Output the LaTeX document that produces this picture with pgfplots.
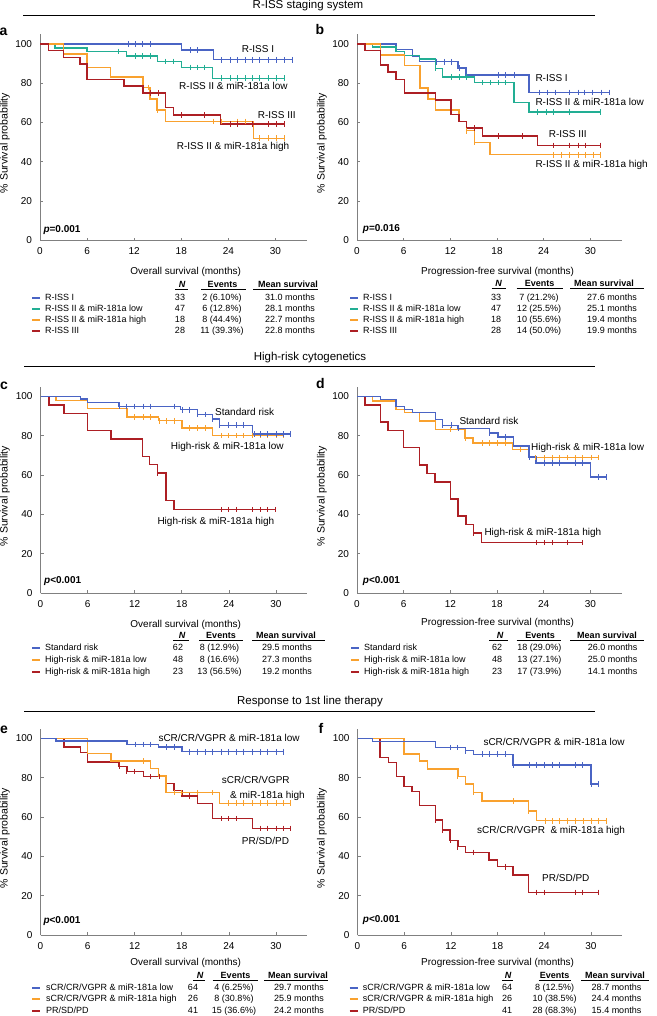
\documentclass[border=0pt]{standalone}
\usepackage{fontspec}
\setmainfont{Liberation Sans}
\usepackage{pgfplots}
\pgfplotsset{compat=1.18}
\definecolor{cblue}{HTML}{4A64C4}
\definecolor{cteal}{HTML}{22AE94}
\definecolor{corange}{HTML}{F9A12E}
\definecolor{cred}{HTML}{AD1F24}
\definecolor{axgray}{HTML}{808080}
\pgfplotsset{
 km/.style={scale only axis, height=206.5pt, xmin=0, xmax=34, ymin=0, ymax=105,
  axis x line=bottom, axis y line=left, axis line style={-, draw=axgray, line width=0.7pt},
  xtick={0,6,...,30}, ytick={0,20,...,100}, tick align=inside, major tick length=3pt,
  tick style={draw=axgray, line width=0.7pt},
  tick label style={font=\fontsize{10}{12}\selectfont},
  x tick label style={yshift=-3.5pt}, y tick label style={xshift=-4.5pt},
  /pgf/number format/assume math mode=true, clip=false, anchor=south west},
 kml/.style={const plot, line width=1.45pt, no marks, line join=miter},
 kmc/.style={only marks, mark=|, mark size=2.8pt, mark options={line width=0.75pt, solid}},
}
\newcommand\KM[3]{\addplot[kml,#1] coordinates {#2};\addplot[kmc,#1] coordinates {#3};}
\newcommand\tfont{\fontsize{9}{10.8}\selectfont}
\newcommand\trow[6]{%
 \draw[#2, line width=2pt] (\lx,#1) -- (\lxe,#1);
 \node[anchor=mid west, inner sep=0pt, font=\tfont] at (\tx,#1) {#3};
 \node[anchor=mid, inner sep=0pt, font=\tfont] at (\nx,#1) {#4};
 \node[anchor=mid, inner sep=0pt, font=\tfont] at (\ex,#1) {#5};
 \node[anchor=mid, inner sep=0pt, font=\tfont] at (\mx,#1) {#6};}
\newcommand\thead[1]{%
 \node[anchor=mid, font=\tfont\bfseries\itshape, inner sep=0pt] at (\hnx,#1) {N};
 \node[anchor=mid, font=\tfont\bfseries, inner sep=0pt] at (\hex,#1) {Events};
 \node[anchor=mid, font=\tfont\bfseries, inner sep=0pt] at (\hmx,#1) {Mean survival};}
\newcommand\clab{\fontsize{10}{12}\selectfont}
\begin{document}
\begin{tikzpicture}
\useasboundingbox (0pt,0pt) rectangle (656pt,-1016pt);
% ---------- a ----------
\begin{axis}[km, width=266.9pt, at={(40pt,-240.5pt)}]
\KM{cblue}{(0,100)(18.05,96.8)(22.1,91.9)(32.1,91.9)}{(11.2,100)(12.2,100)(13.1,100)(14.0,100)(19.1,96.8)(20.1,96.8)(23.1,91.9)(24.2,91.9)(25.1,91.9)(26.1,91.9)(27.0,91.9)(28.0,91.9)(29.1,91.9)(30.1,91.9)(31.1,91.9)(32.1,91.9)}
\KM{cteal}{(0,100)(1.9,97.9)(6.0,96.1)(11.0,93.9)(15.0,91.0)(18.0,88.0)(22.0,82.5)(31.1,82.5)}{(10.0,96.1)(12.1,93.9)(13.1,93.9)(14.0,93.9)(16.0,91.0)(17.0,91.0)(19.1,88.0)(20.1,88.0)(21.0,88.0)(23.1,82.5)(24.2,82.5)(25.1,82.5)(26.1,82.5)(27.0,82.5)(28.0,82.5)(29.1,82.5)(30.1,82.5)(31.1,82.5)}
\KM{corange}{(0,100)(3.0,94.9)(6.0,88.1)(9.0,83.2)(13.1,77.8)(14.0,71.9)(14.9,66.4)(16.0,60.5)(27.2,52.0)(31.1,52.0)}{(13.8,77.8)(14.9,66.4)(22.1,60.5)(23.1,60.5)(25.1,60.5)(26.1,60.5)(28.0,52.0)(29.1,52.0)(30.1,52.0)(31.1,52.0)}
\KM{cred}{(0,100)(1.1,96.6)(3.0,93.0)(5.1,89.7)(6.0,82.0)(10.7,78.6)(13.1,75.1)(16.0,67.6)(17.0,63.7)(23.0,59.2)(31.1,59.2)}{(14.0,75.1)(15.1,75.1)(18.0,63.7)(21.0,63.7)(24.2,59.2)(25.1,59.2)(27.0,59.2)(29.1,59.2)(30.1,59.2)(31.1,59.2)}
\end{axis}
% ---------- b ----------
\begin{axis}[km, width=264.5pt, at={(357pt,-240.5pt)}]
\KM{cblue}{(0,100)(5.0,97.0)(7.1,93.9)(8.0,90.9)(13.0,87.6)(14.0,84.2)(22.1,75.3)(32.4,75.3)}{(10.2,90.9)(11.2,90.9)(12.1,90.9)(13.1,87.6)(18.2,84.2)(19.1,84.2)(20.2,84.2)(23.4,75.3)(24.5,75.3)(25.5,75.3)(27.3,75.3)(28.4,75.3)(29.2,75.3)(30.3,75.3)(31.4,75.3)(32.4,75.3)}
\KM{cteal}{(0,100)(2.0,98.3)(5.0,96.1)(6.1,94.1)(8.0,92.2)(10.1,87.5)(11.0,83.1)(15.1,80.3)(20.2,70.2)(22.1,65.3)(31.3,65.3)}{(10.1,87.5)(12.1,83.1)(13.1,83.1)(14.1,83.1)(16.1,80.3)(17.2,80.3)(18.2,80.3)(19.1,80.3)(23.2,65.3)(24.3,65.3)(25.3,65.3)(27.3,65.3)(31.3,65.3)}
\KM{corange}{(0,100)(3.0,94.4)(6.1,89.0)(8.1,77.5)(9.1,72.0)(10.1,66.4)(13.1,60.5)(14.1,55.8)(15.1,49.8)(17.1,43.6)(31.3,43.6)}{(14.1,55.8)(15.1,49.8)(25.3,43.6)(26.3,43.6)(27.3,43.6)(28.4,43.6)(29.4,43.6)(30.4,43.6)(31.3,43.6)}
\KM{cred}{(0,100)(1.0,96.6)(3.0,89.3)(4.0,85.6)(5.0,82.0)(6.1,74.9)(10.1,71.5)(12.1,64.2)(13.1,60.5)(14.1,57.1)(16.1,53.2)(23.2,48.3)(31.3,48.3)}{(15.1,57.1)(18.2,53.2)(21.2,53.2)(25.3,48.3)(27.3,48.3)(28.4,48.3)(29.4,48.3)(31.3,48.3)}
\end{axis}
% ---------- c ----------
\begin{axis}[km, width=266.9pt, at={(40.5pt,-593pt)}]
\KM{cred}{(0,100)(1.1,95.6)(3.0,91.2)(6.0,82.7)(9.0,78.3)(13.0,69.5)(13.9,65.3)(14.9,61.0)(16.0,47.0)(17.0,42.4)(29.9,42.4)}{(14.9,61.0)(23.0,42.4)(23.9,42.4)(25.0,42.4)(27.0,42.4)(28.0,42.4)(28.9,42.4)(29.9,42.4)}
\KM{corange}{(0,100)(2.0,97.8)(6.0,93.9)(11.0,89.5)(15.0,87.6)(18.0,83.9)(21.9,80.0)(30.9,80.0)}{(12.0,89.5)(13.1,89.5)(14.0,89.5)(15.1,87.6)(16.0,87.6)(17.0,87.6)(19.0,83.9)(20.0,83.9)(21.0,83.9)(23.0,80.0)(23.9,80.0)(25.0,80.0)(25.9,80.0)(27.0,80.0)(28.0,80.0)(28.9,80.0)(30.0,80.0)(30.9,80.0)}
\KM{cblue}{(0,100)(5.1,98.6)(6.0,96.9)(10.0,94.9)(17.8,93.2)(20.0,90.7)(21.9,88.5)(22.8,85.3)(27.0,80.8)(31.8,80.8)}{(10.0,94.9)(11.0,94.9)(12.0,94.9)(13.1,94.9)(14.0,94.9)(17.0,94.9)(18.1,93.2)(19.0,93.2)(20.0,90.7)(21.0,90.7)(21.9,88.5)(22.8,85.3)(23.9,85.3)(25.0,85.3)(25.9,85.3)(27.2,80.8)(28.0,80.8)(28.9,80.8)(30.0,80.8)(31.0,80.8)(31.8,80.8)}
\end{axis}
% ---------- d ----------
\begin{axis}[km, width=264.5pt, at={(357pt,-593pt)}]
\KM{cred}{(0,100)(1.0,95.7)(3.0,87.0)(4.0,82.6)(6.0,73.9)(8.0,65.2)(9.0,60.9)(10.0,56.5)(12.0,47.8)(13.0,39.1)(14.0,34.8)(15.0,30.4)(16.0,25.6)(29.0,25.6)}{(15.0,30.4)(23.0,25.6)(24.1,25.6)(25.1,25.6)(27.1,25.6)(29.0,25.6)}
\KM{corange}{(0,100)(2.0,97.6)(5.0,93.4)(6.1,91.7)(8.0,87.5)(10.1,83.2)(13.9,78.8)(14.9,76.3)(20.0,72.9)(22.1,68.8)(31.0,68.8)}{(12.0,83.2)(13.9,78.8)(16.1,76.3)(17.0,76.3)(18.1,76.3)(19.1,76.3)(21.0,72.9)(22.9,68.8)(24.1,68.8)(25.1,68.8)(26.0,68.8)(27.1,68.8)(28.1,68.8)(29.0,68.8)(30.1,68.8)(31.0,68.8)}
\KM{cblue}{(0,100)(3.0,98.3)(5.0,94.9)(6.1,93.4)(7.1,91.9)(10.1,88.1)(11.0,85.3)(13.0,83.6)(17.0,81.4)(18.1,79.3)(20.1,74.7)(22.1,69.2)(23.0,66.1)(30.0,59.0)(32.0,59.0)}{(11.0,85.3)(12.1,85.3)(13.0,83.6)(17.0,81.4)(19.1,79.3)(22.1,69.2)(24.1,66.1)(25.1,66.1)(26.0,66.1)(28.1,66.1)(29.0,66.1)(31.0,59.0)(32.0,59.0)}
\end{axis}
% ---------- e ----------
\begin{axis}[km, width=266.9pt, at={(40.5pt,-935pt)}]
\KM{cred}{(0,100)(3.0,95.6)(5.1,92.7)(6.0,88.0)(10.0,85.6)(11.0,83.1)(13.1,80.5)(16.0,77.0)(17.0,73.6)(18.0,70.7)(20.0,66.8)(21.9,59.2)(27.0,54.2)(31.8,54.2)}{(10.0,85.6)(11.0,83.1)(12.0,83.1)(14.0,80.5)(15.1,80.5)(17.0,73.6)(19.0,70.7)(23.0,59.2)(23.9,59.2)(25.0,59.2)(28.0,54.2)(28.9,54.2)(30.0,54.2)(31.0,54.2)(31.8,54.2)}
\KM{corange}{(0,100)(6.0,92.2)(9.0,88.5)(14.0,84.7)(15.0,80.8)(16.0,72.4)(22.8,67.0)(31.8,67.0)}{(13.1,88.5)(17.0,72.4)(18.0,72.4)(20.0,72.4)(21.9,72.4)(23.9,67.0)(25.0,67.0)(25.9,67.0)(27.0,67.0)(28.0,67.0)(28.9,67.0)(30.0,67.0)(31.0,67.0)(31.8,67.0)}
\KM{cblue}{(0,100)(2.0,98.6)(11.0,96.9)(15.0,95.6)(18.0,93.2)(31.0,93.2)}{(12.1,96.9)(13.1,96.9)(14.0,96.9)(16.0,95.6)(17.0,95.6)(19.0,93.2)(20.0,93.2)(21.0,93.2)(21.9,93.2)(23.0,93.2)(23.9,93.2)(25.0,93.2)(25.9,93.2)(27.0,93.2)(28.0,93.2)(28.9,93.2)(30.0,93.2)(31.0,93.2)}
\end{axis}
% ---------- f ----------
\begin{axis}[km, width=264.5pt, at={(357.5pt,-935pt)}]
\KM{cred}{(0,100)(2.9,90.2)(4.0,87.6)(5.0,80.5)(6.0,75.4)(7.0,72.9)(8.0,65.8)(10.0,58.5)(10.9,53.4)(11.9,48.0)(12.9,44.9)(13.9,42.0)(16.9,38.1)(18.0,34.7)(20.0,30.5)(22.0,21.7)(31.0,21.7)}{(10.0,58.5)(10.9,53.4)(11.9,48.0)(12.9,44.9)(14.9,42.0)(19.0,34.7)(23.0,21.7)(24.0,21.7)(28.0,21.7)(28.9,21.7)(31.0,21.7)}
\KM{corange}{(0,100)(6.0,92.0)(8.0,88.5)(9.0,84.4)(12.9,80.5)(13.9,76.8)(14.9,72.4)(16.0,68.1)(22.0,63.1)(23.0,58.1)(32.0,58.1)}{(12.9,80.5)(14.9,72.4)(20.0,68.1)(22.0,63.1)(24.1,58.1)(25.1,58.1)(26.0,58.1)(27.0,58.1)(28.0,58.1)(29.0,58.1)(30.0,58.1)(31.0,58.1)(32.0,58.1)}
\KM{cblue}{(0,100)(1.9,98.3)(10.0,95.3)(13.9,93.7)(14.9,91.9)(20.0,86.4)(30.0,76.8)(31.0,76.8)}{(11.9,95.3)(12.9,95.3)(13.9,93.7)(16.0,91.9)(16.9,91.9)(18.0,91.9)(19.0,91.9)(20.0,86.4)(22.1,86.4)(23.0,86.4)(24.0,86.4)(25.1,86.4)(26.0,86.4)(28.0,86.4)(28.9,86.4)(30.0,76.8)(31.0,76.8)}
\end{axis}
% ================= text =================
\begin{scope}[x=1pt,y=-1pt]
% section titles
\node[anchor=mid, font=\fontsize{11.5}{13}\selectfont] at (308,5.5) {R-ISS staging system};
\draw[line width=0.8pt] (23,15) -- (595,15);
\node[anchor=mid, font=\fontsize{11.5}{13}\selectfont] at (310,358.3) {High-risk cytogenetics};
\draw[line width=0.8pt] (24,366) -- (595,366);
\node[anchor=mid, font=\fontsize{11.5}{13}\selectfont] at (310,701.7) {Response to 1st line therapy};
\draw[line width=0.8pt] (24,711.7) -- (595,711.7);
% panel letters
\foreach \l/\px/\py in {a/3.5/32.5, b/320/32, c/4/387, d/320.5/386, e/4/731, f/321/731}
  \node[anchor=mid, font=\fontsize{14}{16}\selectfont\bfseries, inner sep=0pt] at (\px,\py) {\l};
% y labels
\foreach \px/\py in {5/143, 322/143, 5/496, 322/496, 5/838, 322/838}
  \node[rotate=90, anchor=mid, inner sep=0pt, font=\fontsize{10.5}{12}\selectfont] at (\px,\py) {\% Survival probability};
% x labels
\node[anchor=mid, font=\fontsize{10}{12}\selectfont] at (185.7,271.7) {Overall survival (months)};
\node[anchor=mid, font=\fontsize{10}{12}\selectfont] at (497.6,271.5) {Progression-free survival (months)};
\node[anchor=mid, font=\fontsize{10}{12}\selectfont] at (185.7,624.5) {Overall survival (months)};
\node[anchor=mid, font=\fontsize{10}{12}\selectfont] at (497.6,622.5) {Progression-free survival (months)};
\node[anchor=mid, font=\fontsize{10}{12}\selectfont] at (185.7,963.3) {Overall survival (months)};
\node[anchor=mid, font=\fontsize{10}{12}\selectfont] at (497.6,963.3) {Progression-free survival (months)};
% p values
\node[anchor=mid west, inner sep=0pt, font=\fontsize{10}{12}\selectfont\bfseries] at (43.3,230) {\textit{p}=0.001};
\node[anchor=mid west, inner sep=0pt, font=\fontsize{10}{12}\selectfont\bfseries] at (362.7,229.3) {\textit{p}=0.016};
\node[anchor=mid west, inner sep=0pt, font=\fontsize{10}{12}\selectfont\bfseries] at (44,580.7) {\textit{p}<0.001};
\node[anchor=mid west, inner sep=0pt, font=\fontsize{10}{12}\selectfont\bfseries] at (362.7,580.7) {\textit{p}<0.001};
\node[anchor=mid west, inner sep=0pt, font=\fontsize{10}{12}\selectfont\bfseries] at (43.3,921) {\textit{p}<0.001};
\node[anchor=mid west, inner sep=0pt, font=\fontsize{10}{12}\selectfont\bfseries] at (362.7,919.5) {\textit{p}<0.001};
% curve labels a
\node[anchor=mid west, inner sep=0pt, font=\clab] at (241.7,50) {R-ISS I};
\node[anchor=mid west, inner sep=0pt, font=\clab] at (179,87.3) {R-ISS II \& miR-181a low};
\node[anchor=mid west, inner sep=0pt, font=\clab] at (257.7,115.7) {R-ISS III};
\node[anchor=mid west, inner sep=0pt, font=\clab] at (176.7,146.7) {R-ISS II \& miR-181a high};
% curve labels b
\node[anchor=mid west, inner sep=0pt, font=\clab] at (535.3,79) {R-ISS I};
\node[anchor=mid west, inner sep=0pt, font=\clab] at (535.3,103.3) {R-ISS II \& miR-181a low};
\node[anchor=mid west, inner sep=0pt, font=\clab] at (548.7,135.3) {R-ISS III};
\node[anchor=mid west, inner sep=0pt, font=\clab] at (535.3,165) {R-ISS II \& miR-181a high};
% curve labels c
\node[anchor=mid west, inner sep=0pt, font=\clab] at (215,412.7) {Standard risk};
\node[anchor=mid west, inner sep=0pt, font=\clab] at (170.7,446.7) {High-risk \& miR-181a low};
\node[anchor=mid west, inner sep=0pt, font=\clab] at (157.3,522.3) {High-risk \& miR-181a high};
% curve labels d
\node[anchor=mid west, inner sep=0pt, font=\clab] at (459.3,421.7) {Standard risk};
\node[anchor=mid west, inner sep=0pt, font=\clab] at (531,448.3) {High-risk \& miR-181a low};
\node[anchor=mid west, inner sep=0pt, font=\clab] at (484.3,533.3) {High-risk \& miR-181a high};
% curve labels e
\node[anchor=mid west, inner sep=0pt, font=\clab] at (158.3,738.7) {sCR/CR/VGPR \& miR-181a low};
\node[anchor=mid west, inner sep=0pt, font=\clab] at (221.7,780.7) {sCR/CR/VGPR};
\node[anchor=mid west, inner sep=0pt, font=\clab] at (230,795.7) {\& miR-181a high};
\node[anchor=mid west, inner sep=0pt, font=\clab] at (241.7,841.7) {PR/SD/PD};
% curve labels f
\node[anchor=mid west, inner sep=0pt, font=\clab] at (483.3,743.3) {sCR/CR/VGPR \& miR-181a low};
\node[anchor=mid west, inner sep=0pt, font=\clab] at (477,830.7) {sCR/CR/VGPR\ \ \& miR-181a high};
\node[anchor=mid west, inner sep=0pt, font=\clab] at (542,879.3) {PR/SD/PD};
% ---------- table a ----------
\def\hnx{182}\def\hex{222.5}\def\hmx{288}
\thead{285}
\draw[line width=0.6pt] (175,289.3) -- (188,289.3) (201,289.3) -- (246,289.3) (253,289.3) -- (318,289.3);
\def\lx{32}\def\lxe{40}\def\tx{45}\def\nx{180}\def\ex{222}\def\mx{290}
\trow{298.3}{cblue}{R-ISS I}{33}{2 (6.10\%)}{31.0 months}
\trow{309.3}{cteal}{R-ISS II \& miR-181a low}{47}{6 (12.8\%)}{28.1 months}
\trow{320}{corange}{R-ISS II \& miR-181a high}{18}{8 (44.4\%)}{22.7 months}
\trow{330.7}{cred}{R-ISS III}{28}{11 (39.3\%)}{22.8 months}
% ---------- table b ----------
\def\hnx{498.5}\def\hex{539.5}\def\hmx{604}
\thead{284.3}
\draw[line width=0.6pt] (491.7,288.6) -- (506,288.6) (516.7,288.6) -- (562.7,288.6) (570,288.6) -- (644.3,288.6);
\def\lx{350}\def\lxe{358}\def\tx{363}\def\nx{496}\def\ex{539}\def\mx{612}
\trow{298.3}{cblue}{R-ISS I}{33}{7 (21.2\%)}{27.6 months}
\trow{309.3}{cteal}{R-ISS II \& miR-181a low}{47}{12 (25.5\%)}{25.1 months}
\trow{320}{corange}{R-ISS II \& miR-181a high}{18}{10 (55.6\%)}{19.4 months}
\trow{330.7}{cred}{R-ISS III}{28}{14 (50.0\%)}{19.9 months}
% ---------- table c ----------
\def\hnx{182}\def\hex{221}\def\hmx{286}
\thead{636}
\draw[line width=0.6pt] (173.3,640.3) -- (189,640.3) (199,640.3) -- (242.7,640.3) (252,640.3) -- (325,640.3);
\def\lx{32}\def\lxe{40}\def\tx{45}\def\nx{178}\def\ex{219.5}\def\mx{287}
\trow{647.5}{cblue}{Standard risk}{62}{8 (12.9\%)}{29.5 months}
\trow{659.5}{corange}{High-risk \& miR-181a low}{48}{8 (16.6\%)}{27.3 months}
\trow{671.5}{cred}{High-risk \& miR-181a high}{23}{13 (56.5\%)}{19.2 months}
% ---------- table d ----------
\def\hnx{500}\def\hex{540}\def\hmx{607}
\thead{636}
\draw[line width=0.6pt] (489,640.3) -- (507.7,640.3) (516.7,640.3) -- (561.3,640.3) (570,640.3) -- (644,640.3);
\def\lx{351}\def\lxe{359}\def\tx{364}\def\nx{497}\def\ex{539.3}\def\mx{612.7}
\trow{647.5}{cblue}{Standard risk}{62}{18 (29.0\%)}{26.0 months}
\trow{659.5}{corange}{High-risk \& miR-181a low}{48}{13 (27.1\%)}{25.0 months}
\trow{671.5}{cred}{High-risk \& miR-181a high}{23}{17 (73.9\%)}{14.1 months}
% ---------- table e ----------
\def\hnx{200}\def\hex{235.5}\def\hmx{298}
\thead{976}
\draw[line width=0.6pt] (193,980.3) -- (205,980.3) (212.7,980.3) -- (258.3,980.3) (264,980.3) -- (328.3,980.3);
\def\lx{32}\def\lxe{40}\def\tx{46}\def\nx{193}\def\ex{234}\def\mx{299}
\trow{988.3}{cblue}{sCR/CR/VGPR \& miR-181a low}{64}{4 (6.25\%)}{29.7 months}
\trow{999.3}{corange}{sCR/CR/VGPR \& miR-181a high}{26}{8 (30.8\%)}{25.9 months}
\trow{1010.7}{cred}{PR/SD/PD}{41}{15 (36.6\%)}{24.2 months}
% ---------- table f ----------
\def\hnx{508}\def\hex{554.5}\def\hmx{615}
\thead{976}
\draw[line width=0.6pt] (502,980.3) -- (513,980.3) (538.7,980.3) -- (571,980.3) (581,980.3) -- (648.7,980.3);
\def\lx{349.5}\def\lxe{357.5}\def\tx{362.7}\def\nx{507}\def\ex{554.7}\def\mx{616.5}
\trow{988.3}{cblue}{sCR/CR/VGPR \& miR-181a low}{64}{8 (12.5\%)}{28.7 months}
\trow{999.3}{corange}{sCR/CR/VGPR \& miR-181a high}{26}{10 (38.5\%)}{24.4 months}
\trow{1010.7}{cred}{PR/SD/PD}{41}{28 (68.3\%)}{15.4 months}
\end{scope}
\end{tikzpicture}
\end{document}
